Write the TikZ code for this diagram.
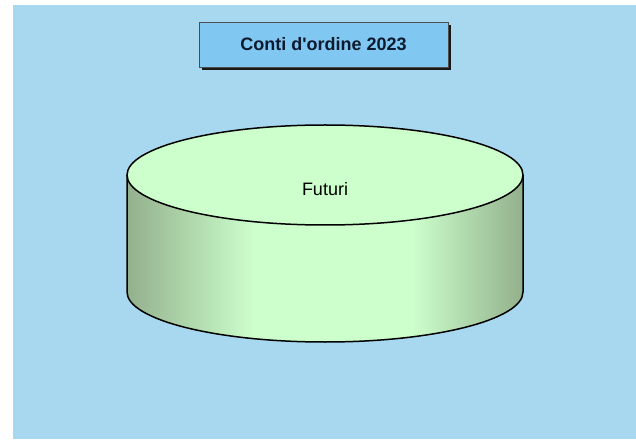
\documentclass[tikz,border=0pt]{standalone}
\usepackage{fontspec}
\setmainfont{Liberation Sans}
\usetikzlibrary{positioning}

\definecolor{skybg}{HTML}{A8D8EF}
\definecolor{titlefill}{HTML}{80C8F2}
\definecolor{titletext}{HTML}{0E1A30}
\definecolor{toplight}{HTML}{CCFFCC}
\definecolor{sidedark}{HTML}{93B08C}

\pgfdeclarehorizontalshading{sideshade}{100bp}{color(0bp)=(sidedark); color(25bp)=(sidedark);
  color(41bp)=(toplight); color(61bp)=(toplight); color(75bp)=(sidedark); color(100bp)=(sidedark)}

\tikzset{
  titlebox/.style={draw=black!70, line width=0.6pt, fill=titlefill, minimum width=249pt,
    minimum height=45pt, font=\fontsize{18}{20}\selectfont\bfseries, text=titletext},
  rim/.style={line width=1.5pt, black},
}

\begin{document}
\begin{tikzpicture}[x=1pt, y=1pt]
    % Parameters
    \def\cx{325}
    \def\rx{198}
    \def\ry{50}
    \def\ytop{264}
    \def\ybot{147}

    % Background
    \useasboundingbox (0,0) rectangle (636,439);
    \fill[skybg] (13,0) rectangle (636,434);

    % Title with shadow
    \fill[black!90] (202,369) rectangle (451,414);
    \node[titlebox] (title) at (323.5,394.5) {Conti d\textquotesingle ordine 2023};

    % Cylinder side
    \path[shading=sideshade] (\cx-\rx,\ytop) -- (\cx-\rx,\ybot)
        arc[start angle=180, end angle=360, x radius=\rx, y radius=\ry] -- (\cx+\rx,\ytop) -- cycle;
    \draw[rim] (\cx-\rx,\ytop) -- (\cx-\rx,\ybot)
        arc[start angle=180, end angle=360, x radius=\rx, y radius=\ry] -- (\cx+\rx,\ytop);

    % Cylinder top
    \draw[rim, fill=toplight] (\cx,\ytop) ellipse[x radius=\rx, y radius=\ry];
    \node[font=\fontsize{18}{20}\selectfont] (futuri) at (\cx,\ytop-14) {Futuri};
\end{tikzpicture}
\end{document}
